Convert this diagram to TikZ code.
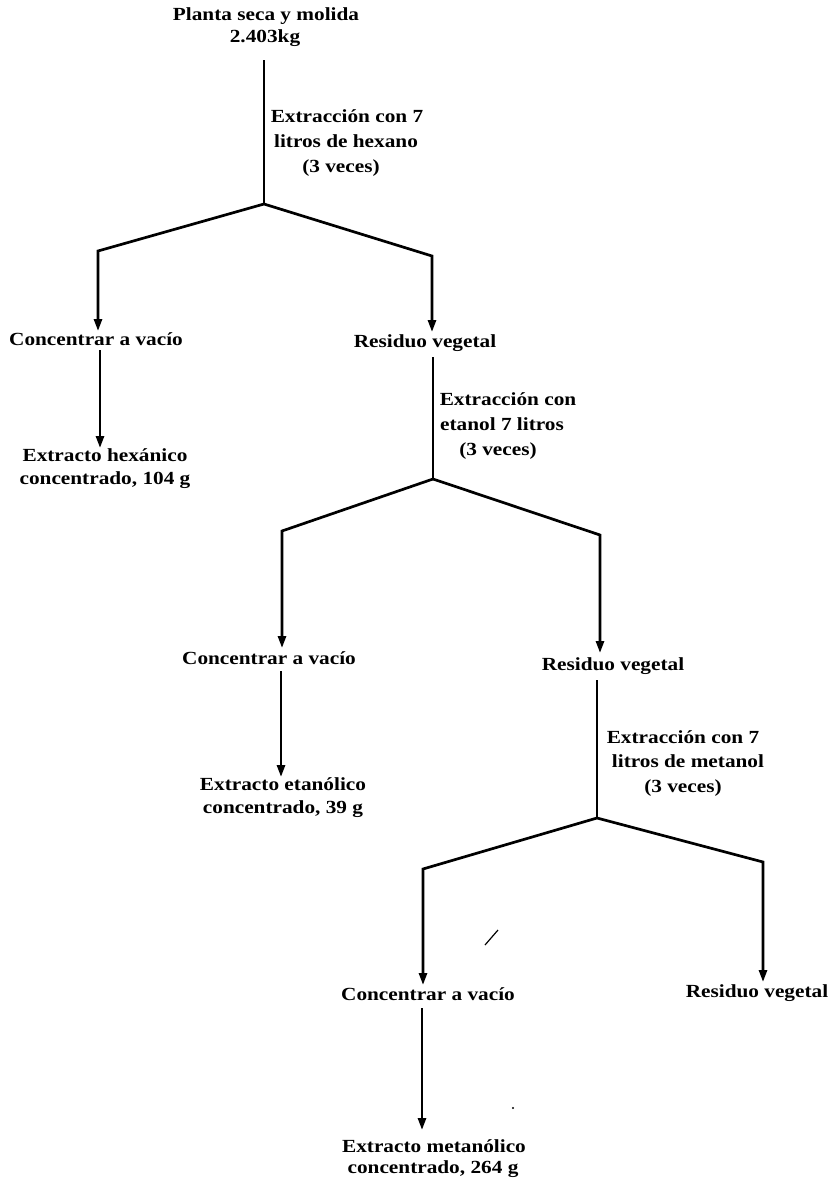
\documentclass[tikz,border=0pt]{standalone}
\usepackage{fontspec}
\setmainfont{Liberation Serif}[FakeStretch=1.15]
\usetikzlibrary{arrows.meta}
\begin{document}
\begin{tikzpicture}[x=1pt,y=-1pt,
  lbl/.style={font=\bfseries\fontsize{18.5}{24}\selectfont, inner sep=0pt, anchor=base},
  flow/.style={line width=2.7pt, line join=miter},
  arr/.style={line width=2.7pt, line join=miter, -{Triangle[width=8pt,length=12pt]}},
  noise/.style={line width=1.2pt}]
\useasboundingbox (0,0) rectangle (836,1184);
\fill[white] (0,0) rectangle (836,1184);
% texts
\node[lbl] (p1) at (266,20) {Planta seca y molida};
\node[lbl] (p2) at (265,42) {2.403kg};
\node[lbl] (e1a) at (347,122) {Extracción con 7};
\node[lbl] (e1b) at (346,147) {litros de hexano};
\node[lbl] (e1c) at (341,172) {(3 veces)};
\node[lbl] (c1) at (96,345) {Concentrar a vacío};
\node[lbl] (r1) at (425,347) {Residuo vegetal};
\node[lbl] (x1a) at (105,461) {Extracto hexánico};
\node[lbl] (x1b) at (105,484) {concentrado, 104 g};
\node[lbl] (e2a) at (508,405) {Extracción con};
\node[lbl] (e2b) at (502,430) {etanol 7 litros};
\node[lbl] (e2c) at (498,455) {(3 veces)};
\node[lbl] (c2) at (269,664) {Concentrar a vacío};
\node[lbl] (r2) at (613,670) {Residuo vegetal};
\node[lbl] (x2a) at (283,790) {Extracto etanólico};
\node[lbl] (x2b) at (283,813) {concentrado, 39 g};
\node[lbl] (e3a) at (683,743) {Extracción con 7};
\node[lbl] (e3b) at (688,767) {litros de metanol};
\node[lbl] (e3c) at (683,792) {(3 veces)};
\node[lbl] (c3) at (428,1000) {Concentrar a vacío};
\node[lbl] (r3) at (757,997) {Residuo vegetal};
\node[lbl] (x3a) at (434,1152) {Extracto metanólico};
\node[lbl] (x3b) at (433,1173) {concentrado, 264 g};
% junction coordinates
\coordinate (s1) at (264,60);
\coordinate (ap1) at (264,204);
\coordinate (l1c) at (98,251);
\coordinate (l1t) at (98,331);
\coordinate (r1c) at (432,256);
\coordinate (r1t) at (432,332);
\coordinate (d1s) at (100,350);
\coordinate (d1t) at (100,448);
\coordinate (s2) at (433,357);
\coordinate (ap2) at (433,479);
\coordinate (l2c) at (282,531);
\coordinate (l2t) at (282,648);
\coordinate (r2c) at (600,535);
\coordinate (r2t) at (600,653);
\coordinate (d2s) at (281,671);
\coordinate (d2t) at (281,777);
\coordinate (s3) at (597,680);
\coordinate (ap3) at (597,818);
\coordinate (l3c) at (423,869);
\coordinate (l3t) at (423,985);
\coordinate (r3c) at (763,862);
\coordinate (r3t) at (763,982);
\coordinate (d3s) at (422,1008);
\coordinate (d3t) at (422,1130);
% connectors
\draw[flow] (s1) -- (ap1);
\draw[arr] (ap1) -- (l1c) -- (l1t);
\draw[arr] (ap1) -- (r1c) -- (r1t);
\draw[arr] (d1s) -- (d1t);
\draw[flow] (s2) -- (ap2);
\draw[arr] (ap2) -- (l2c) -- (l2t);
\draw[arr] (ap2) -- (r2c) -- (r2t);
\draw[arr] (d2s) -- (d2t);
\draw[flow] (s3) -- (ap3);
\draw[arr] (ap3) -- (l3c) -- (l3t);
\draw[arr] (ap3) -- (r3c) -- (r3t);
\draw[arr] (d3s) -- (d3t);
% scan specks
\draw[noise] (485,945) -- (498,930);
\fill (513,1108) circle (1.2pt);
\end{tikzpicture}
\end{document}
